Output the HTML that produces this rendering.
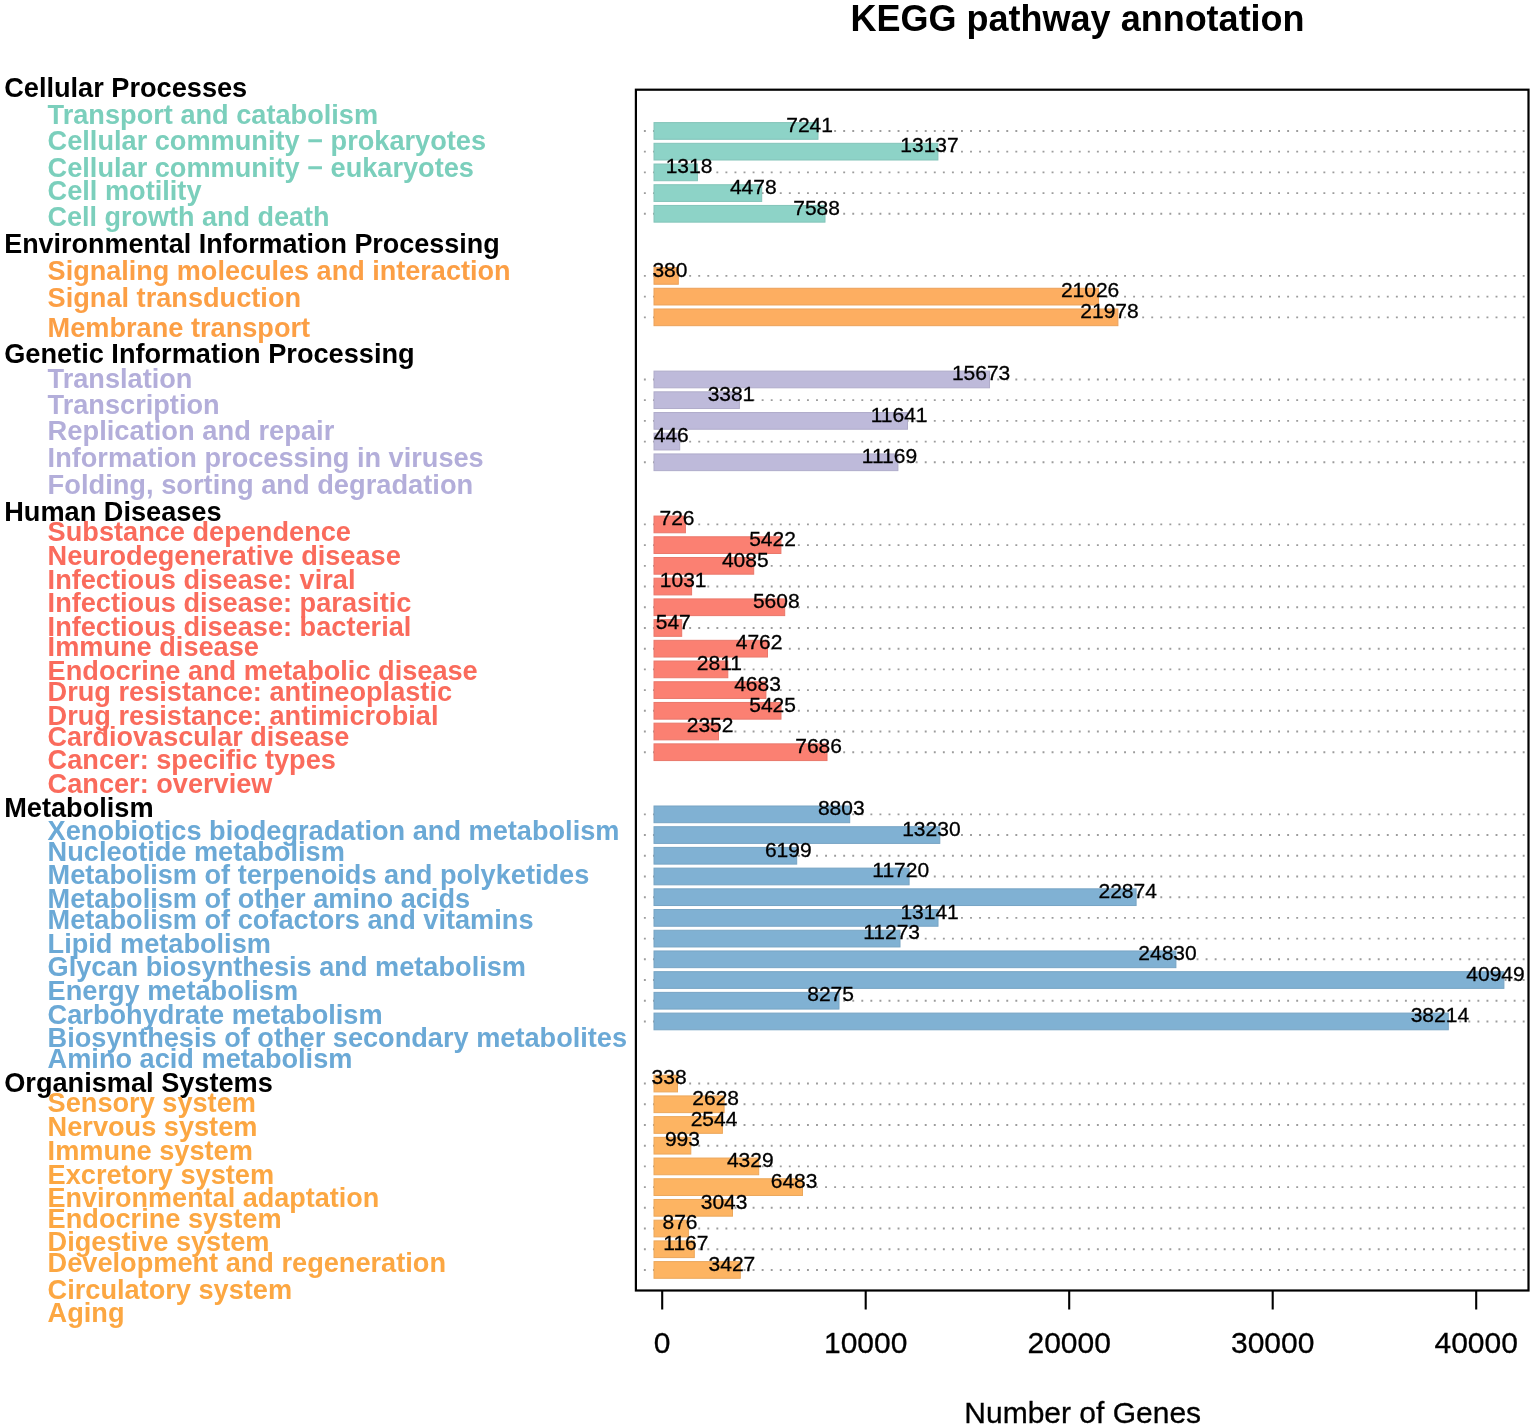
<!DOCTYPE html>
<html lang="en"><head><meta charset="utf-8"><title>KEGG pathway annotation</title>
<style>html,body{margin:0;padding:0;background:#fff}body{width:1535px;height:1428px;overflow:hidden}svg{display:block}text{font-family:'Liberation Sans', Arial, Helvetica, sans-serif}.h{font-weight:bold;font-size:27.17px;fill:#000}.l{font-weight:bold;font-size:27.17px}.v{font-size:21px;fill:#000;text-anchor:middle;stroke:#000;stroke-width:.3px}.t{font-size:30px;fill:#000;text-anchor:middle;stroke:#000;stroke-width:.3px}</style></head><body>
<svg width="1535" height="1428" viewBox="0 0 1535 1428">
<rect width="1535" height="1428" fill="#fff"/>
<text x="1077.6" y="31.3" text-anchor="middle" font-weight="bold" font-size="36">KEGG pathway annotation</text>
<text class="h" x="4.2" y="97.3">Cellular Processes</text>
<g fill="#7BCFBC">
<text class="l" x="47.6" y="123.9">Transport and catabolism</text>
<text class="l" x="47.6" y="150.0">Cellular community − prokaryotes</text>
<text class="l" x="47.6" y="176.6">Cellular community − eukaryotes</text>
<text class="l" x="47.6" y="200.3">Cell motility</text>
<text class="l" style="font-size:27.01px" x="47.6" y="226.3">Cell growth and death</text>
</g>
<text class="h" style="font-size:26.94px" x="4.2" y="253.0">Environmental Information Processing</text>
<g fill="#FC9F45">
<text class="l" style="font-size:27.05px" x="47.6" y="280.1">Signaling molecules and interaction</text>
<text class="l" x="47.6" y="307.0">Signal transduction</text>
<text class="l" x="47.6" y="336.5">Membrane transport</text>
</g>
<text class="h" x="4.2" y="363.1">Genetic Information Processing</text>
<g fill="#B3AEDA">
<text class="l" x="47.6" y="387.6">Translation</text>
<text class="l" x="47.6" y="414.1">Transcription</text>
<text class="l" style="font-size:27.31px" x="47.6" y="440.3">Replication and repair</text>
<text class="l" x="47.6" y="467.0">Information processing in viruses</text>
<text class="l" style="font-size:27.28px" x="47.6" y="493.8">Folding, sorting and degradation</text>
</g>
<text class="h" x="4.2" y="520.7">Human Diseases</text>
<g fill="#FA6B5C">
<text class="l" x="47.6" y="541.2">Substance dependence</text>
<text class="l" x="47.6" y="564.7">Neurodegenerative disease</text>
<text class="l" x="47.6" y="588.9">Infectious disease: viral</text>
<text class="l" x="47.6" y="612.4">Infectious disease: parasitic</text>
<text class="l" x="47.6" y="635.9">Infectious disease: bacterial</text>
<text class="l" x="47.6" y="656.4">Immune disease</text>
<text class="l" x="47.6" y="680.3">Endocrine and metabolic disease</text>
<text class="l" x="47.6" y="700.9">Drug resistance: antineoplastic</text>
<text class="l" x="47.6" y="725.2">Drug resistance: antimicrobial</text>
<text class="l" style="font-size:27.00px" x="47.6" y="745.5">Cardiovascular disease</text>
<text class="l" x="47.6" y="768.9">Cancer: specific types</text>
<text class="l" x="47.6" y="792.9">Cancer: overview</text>
</g>
<text class="h" x="4.2" y="816.6">Metabolism</text>
<g fill="#6BA9D6">
<text class="l" x="47.6" y="840.0">Xenobiotics biodegradation and metabolism</text>
<text class="l" x="47.6" y="860.9">Nucleotide metabolism</text>
<text class="l" x="47.6" y="884.3">Metabolism of terpenoids and polyketides</text>
<text class="l" x="47.6" y="908.3">Metabolism of other amino acids</text>
<text class="l" x="47.6" y="928.6">Metabolism of cofactors and vitamins</text>
<text class="l" x="47.6" y="952.6">Lipid metabolism</text>
<text class="l" x="47.6" y="975.8">Glycan biosynthesis and metabolism</text>
<text class="l" x="47.6" y="999.6">Energy metabolism</text>
<text class="l" x="47.6" y="1023.6">Carbohydrate metabolism</text>
<text class="l" x="47.6" y="1047.4">Biosynthesis of other secondary metabolites</text>
<text class="l" x="47.6" y="1067.9">Amino acid metabolism</text>
</g>
<text class="h" x="4.2" y="1091.7">Organismal Systems</text>
<g fill="#FCA742">
<text class="l" x="47.6" y="1112.0">Sensory system</text>
<text class="l" x="47.6" y="1135.6">Nervous system</text>
<text class="l" x="47.6" y="1159.5">Immune system</text>
<text class="l" x="47.6" y="1183.5">Excretory system</text>
<text class="l" style="font-size:27.01px" x="47.6" y="1206.9">Environmental adaptation</text>
<text class="l" x="47.6" y="1227.8">Endocrine system</text>
<text class="l" x="47.6" y="1251.2">Digestive system</text>
<text class="l" x="47.6" y="1271.6">Development and regeneration</text>
<text class="l" x="47.6" y="1298.9">Circulatory system</text>
<text class="l" x="47.6" y="1322.4">Aging</text>
</g>
<path d="M643.9 130.95H1526.0M643.9 151.66H1526.0M643.9 172.37H1526.0M643.9 193.08H1526.0M643.9 213.79H1526.0M643.9 275.91H1526.0M643.9 296.62H1526.0M643.9 317.33H1526.0M643.9 379.46H1526.0M643.9 400.17H1526.0M643.9 420.88H1526.0M643.9 441.59H1526.0M643.9 462.29H1526.0M643.9 524.42H1526.0M643.9 545.13H1526.0M643.9 565.84H1526.0M643.9 586.55H1526.0M643.9 607.26H1526.0M643.9 627.97H1526.0M643.9 648.68H1526.0M643.9 669.38H1526.0M643.9 690.09H1526.0M643.9 710.80H1526.0M643.9 731.51H1526.0M643.9 752.22H1526.0M643.9 814.35H1526.0M643.9 835.06H1526.0M643.9 855.76H1526.0M643.9 876.47H1526.0M643.9 897.18H1526.0M643.9 917.89H1526.0M643.9 938.60H1526.0M643.9 959.31H1526.0M643.9 980.02H1526.0M643.9 1000.73H1526.0M643.9 1021.44H1526.0M643.9 1083.56H1526.0M643.9 1104.27H1526.0M643.9 1124.98H1526.0M643.9 1145.69H1526.0M643.9 1166.40H1526.0M643.9 1187.11H1526.0M643.9 1207.82H1526.0M643.9 1228.53H1526.0M643.9 1249.24H1526.0M643.9 1269.94H1526.0" stroke="#9c9c9c" stroke-width="1.9" stroke-dasharray="1.9 7.16" fill="none"/>
<g fill="#8DD3C7" stroke="#83C4B9" stroke-width="1">
<rect x="654.0" y="122.60" width="164.0" height="16.7"/>
<rect x="654.0" y="143.31" width="283.9" height="16.7"/>
<rect x="654.0" y="164.02" width="43.4" height="16.7"/>
<rect x="654.0" y="184.73" width="107.7" height="16.7"/>
<rect x="654.0" y="205.44" width="171.0" height="16.7"/>
</g>
<g fill="#FDAE61" stroke="#EBA15A" stroke-width="1">
<rect x="654.0" y="267.56" width="24.3" height="16.7"/>
<rect x="654.0" y="288.27" width="444.5" height="16.7"/>
<rect x="654.0" y="308.98" width="463.9" height="16.7"/>
</g>
<g fill="#BEBADA" stroke="#B0ACCA" stroke-width="1">
<rect x="654.0" y="371.11" width="335.5" height="16.7"/>
<rect x="654.0" y="391.82" width="85.4" height="16.7"/>
<rect x="654.0" y="412.53" width="253.5" height="16.7"/>
<rect x="654.0" y="433.24" width="25.7" height="16.7"/>
<rect x="654.0" y="453.94" width="243.9" height="16.7"/>
</g>
<g fill="#FB8072" stroke="#E9776A" stroke-width="1">
<rect x="654.0" y="516.07" width="31.4" height="16.7"/>
<rect x="654.0" y="536.78" width="126.9" height="16.7"/>
<rect x="654.0" y="557.49" width="99.7" height="16.7"/>
<rect x="654.0" y="578.20" width="37.6" height="16.7"/>
<rect x="654.0" y="598.91" width="130.7" height="16.7"/>
<rect x="654.0" y="619.62" width="27.7" height="16.7"/>
<rect x="654.0" y="640.33" width="113.5" height="16.7"/>
<rect x="654.0" y="661.03" width="73.8" height="16.7"/>
<rect x="654.0" y="681.74" width="111.9" height="16.7"/>
<rect x="654.0" y="702.45" width="127.0" height="16.7"/>
<rect x="654.0" y="723.16" width="64.5" height="16.7"/>
<rect x="654.0" y="743.87" width="173.0" height="16.7"/>
</g>
<g fill="#80B1D3" stroke="#77A4C4" stroke-width="1">
<rect x="654.0" y="806.00" width="195.7" height="16.7"/>
<rect x="654.0" y="826.71" width="285.8" height="16.7"/>
<rect x="654.0" y="847.41" width="142.7" height="16.7"/>
<rect x="654.0" y="868.12" width="255.1" height="16.7"/>
<rect x="654.0" y="888.83" width="482.1" height="16.7"/>
<rect x="654.0" y="909.54" width="284.0" height="16.7"/>
<rect x="654.0" y="930.25" width="246.0" height="16.7"/>
<rect x="654.0" y="950.96" width="521.9" height="16.7"/>
<rect x="654.0" y="971.67" width="849.9" height="16.7"/>
<rect x="654.0" y="992.38" width="185.0" height="16.7"/>
<rect x="654.0" y="1013.09" width="794.3" height="16.7"/>
</g>
<g fill="#FDB462" stroke="#EBA75B" stroke-width="1">
<rect x="654.0" y="1075.21" width="23.5" height="16.7"/>
<rect x="654.0" y="1095.92" width="70.1" height="16.7"/>
<rect x="654.0" y="1116.63" width="68.4" height="16.7"/>
<rect x="654.0" y="1137.34" width="36.8" height="16.7"/>
<rect x="654.0" y="1158.05" width="104.7" height="16.7"/>
<rect x="654.0" y="1178.76" width="148.5" height="16.7"/>
<rect x="654.0" y="1199.47" width="78.5" height="16.7"/>
<rect x="654.0" y="1220.18" width="34.4" height="16.7"/>
<rect x="654.0" y="1240.89" width="40.3" height="16.7"/>
<rect x="654.0" y="1261.59" width="86.3" height="16.7"/>
</g>
<text class="v" x="809.6" y="131.6">7241</text>
<text class="v" x="929.5" y="152.4">13137</text>
<text class="v" x="689.0" y="173.1">1318</text>
<text class="v" x="753.3" y="193.8">4478</text>
<text class="v" x="816.6" y="214.5">7588</text>
<text class="v" x="669.9" y="276.6">380</text>
<text class="v" x="1090.1" y="297.3">21026</text>
<text class="v" x="1109.5" y="318.0">21978</text>
<text class="v" x="981.1" y="380.2">15673</text>
<text class="v" x="731.0" y="400.9">3381</text>
<text class="v" x="899.1" y="421.6">11641</text>
<text class="v" x="671.3" y="442.3">446</text>
<text class="v" x="889.5" y="463.0">11169</text>
<text class="v" x="677.0" y="525.1">726</text>
<text class="v" x="772.5" y="545.8">5422</text>
<text class="v" x="745.3" y="566.5">4085</text>
<text class="v" x="683.2" y="587.2">1031</text>
<text class="v" x="776.3" y="608.0">5608</text>
<text class="v" x="673.3" y="628.7">547</text>
<text class="v" x="759.1" y="649.4">4762</text>
<text class="v" x="719.4" y="670.1">2811</text>
<text class="v" x="757.5" y="690.8">4683</text>
<text class="v" x="772.6" y="711.5">5425</text>
<text class="v" x="710.1" y="732.2">2352</text>
<text class="v" x="818.6" y="752.9">7686</text>
<text class="v" x="841.3" y="815.0">8803</text>
<text class="v" x="931.4" y="835.8">13230</text>
<text class="v" x="788.3" y="856.5">6199</text>
<text class="v" x="900.7" y="877.2">11720</text>
<text class="v" x="1127.7" y="897.9">22874</text>
<text class="v" x="929.6" y="918.6">13141</text>
<text class="v" x="891.6" y="939.3">11273</text>
<text class="v" x="1167.5" y="960.0">24830</text>
<text class="v" x="1495.5" y="980.7">40949</text>
<text class="v" x="830.6" y="1001.4">8275</text>
<text class="v" x="1439.9" y="1022.1">38214</text>
<text class="v" x="669.1" y="1084.3">338</text>
<text class="v" x="715.7" y="1105.0">2628</text>
<text class="v" x="714.0" y="1125.7">2544</text>
<text class="v" x="682.4" y="1146.4">993</text>
<text class="v" x="750.3" y="1167.1">4329</text>
<text class="v" x="794.1" y="1187.8">6483</text>
<text class="v" x="724.1" y="1208.5">3043</text>
<text class="v" x="680.0" y="1229.2">876</text>
<text class="v" x="685.9" y="1249.9">1167</text>
<text class="v" x="731.9" y="1270.6">3427</text>
<rect x="635.9" y="89.7" width="892.6" height="1200.8" fill="none" stroke="#000" stroke-width="2.2"/>
<path d="M662.2 1290.5V1309.5" stroke="#000" stroke-width="2.1"/>
<text class="t" x="662.2" y="1353.4">0</text>
<path d="M865.7 1290.5V1309.5" stroke="#000" stroke-width="2.1"/>
<text class="t" x="865.7" y="1353.4">10000</text>
<path d="M1069.2 1290.5V1309.5" stroke="#000" stroke-width="2.1"/>
<text class="t" x="1069.2" y="1353.4">20000</text>
<path d="M1272.7 1290.5V1309.5" stroke="#000" stroke-width="2.1"/>
<text class="t" x="1272.7" y="1353.4">30000</text>
<path d="M1476.2 1290.5V1309.5" stroke="#000" stroke-width="2.1"/>
<text class="t" x="1476.2" y="1353.4">40000</text>
<text x="1082.7" y="1422.7" text-anchor="middle" font-size="30" stroke="#000" stroke-width=".3">Number of Genes</text>
</svg></body></html>
